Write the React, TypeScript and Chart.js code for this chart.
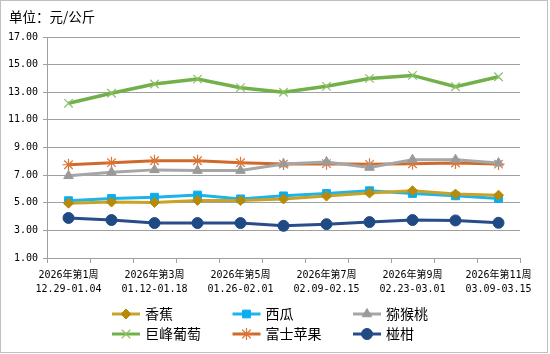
import React, { useEffect, useRef } from "react";
import { Chart, registerables } from "chart.js";
import { drawPoint } from "chart.js/helpers";

Chart.register(...registerables);

const weekLabels = [
  "2026年第1周", "2026年第2周", "2026年第3周", "2026年第4周", "2026年第5周", "2026年第6周",
  "2026年第7周", "2026年第8周", "2026年第9周", "2026年第10周", "2026年第11周",
];
const dateLabels = [
  "12.29-01.04", "01.05-01.11", "01.12-01.18", "01.19-01.25", "01.26-02.01", "02.02-02.08",
  "02.09-02.15", "02.16-02.22", "02.23-03.01", "03.02-03.08", "03.09-03.15",
];
const seriesNames = ["香蕉", "西瓜", "猕猴桃", "巨峰葡萄", "富士苹果", "椪柑"];
const banana = [4.97, 5.05, 5.02, 5.17, 5.17, 5.27, 5.48, 5.7, 5.87, 5.63, 5.55];
const watermelon = [5.15, 5.31, 5.4, 5.56, 5.28, 5.5, 5.67, 5.87, 5.67, 5.5, 5.3];
const kiwi = [6.95, 7.2, 7.38, 7.33, 7.33, 7.8, 7.95, 7.55, 8.12, 8.12, 7.87];
const grape = [12.2, 12.93, 13.6, 13.95, 13.33, 13.0, 13.43, 14.0, 14.22, 13.4, 14.12];
const apple = [7.75, 7.9, 8.04, 8.04, 7.9, 7.8, 7.83, 7.78, 7.82, 7.88, 7.8];
const ponkan = [3.9, 3.75, 3.53, 3.53, 3.53, 3.33, 3.45, 3.6, 3.75, 3.72, 3.55];
const yTickValues = [1, 3, 5, 7, 9, 11, 13, 15, 17];
const titleText = "单位：元/公斤";

const MONO = "'DejaVu Sans Mono', 'Noto Sans CJK SC', monospace";
const CJK = "'Noto Sans CJK SC', sans-serif";

const styles = [
  { line: "#C9A227", point: "#B88A0A", style: "rectRot", radius: 5, pw: 1 },
  { line: "#1DB4EA", point: "#0AAEEF", style: "rect", radius: 5.5, pw: 1 },
  { line: "#A6A6A6", point: "#9A9A9A", style: "triangle", radius: 5.5, pw: 1 },
  { line: "#72B04A", point: "#8CBF68", style: "crossRot", radius: 6, pw: 1.2 },
  { line: "#CF6A2A", point: "#DE7434", style: "star", radius: 6, pw: 1.2 },
  { line: "#2A4C88", point: "#1F4A84", style: "circle", radius: 5.5, pw: 1 },
];

const overlayPlugin = {
  id: "overlay",
  afterDraw(chart: any) {
    const ctx = chart.ctx;
    ctx.save();
    ctx.fillStyle = "#000";
    ctx.font = `13.5px ${CJK}`;
    ctx.textAlign = "left";
    ctx.textBaseline = "middle";
    ctx.fillText(titleText, 9, 17);
    chart.data.datasets.forEach((ds: any, i: number) => {
      const col = i % 3;
      const row = Math.floor(i / 3);
      const x0 = 112 + col * 120.5;
      const y = 314 + row * 20;
      ctx.strokeStyle = ds.borderColor;
      ctx.lineWidth = 3;
      ctx.beginPath();
      ctx.moveTo(x0, y);
      ctx.lineTo(x0 + 28, y);
      ctx.stroke();
      ctx.fillStyle = ds.pointBackgroundColor;
      ctx.strokeStyle = ds.pointBorderColor;
      ctx.lineWidth = ds.pointBorderWidth;
      drawPoint(ctx, { pointStyle: ds.pointStyle, radius: ds.pointRadius, rotation: 0, borderWidth: ds.pointBorderWidth }, x0 + 14, y);
      ctx.fillStyle = "#000";
      ctx.font = `14px ${CJK}`;
      ctx.textBaseline = "middle";
      ctx.fillText(ds.label, x0 + 33, y);
    });
    ctx.restore();
  },
};

export default function App() {
  const ref = useRef<HTMLCanvasElement>(null);
  useEffect(() => {
    if (!ref.current) return;
    const values = [banana, watermelon, kiwi, grape, apple, ponkan];
    const chart = new Chart(ref.current, {
      type: "line",
      data: {
        labels: weekLabels.map((w, i) => [w, dateLabels[i]]),
        datasets: values.map((v, i) => ({
          label: seriesNames[i],
          data: v,
          borderColor: styles[i].line,
          borderWidth: i === 3 ? 3.5 : 3,
          pointStyle: styles[i].style as any,
          pointRadius: styles[i].radius,
          pointBackgroundColor: styles[i].point,
          pointBorderColor: styles[i].point,
          pointBorderWidth: styles[i].pw,
          tension: 0,
          fill: false,
        })),
      },
      options: {
        animation: false,
        responsive: false,
        maintainAspectRatio: false,
        layout: { padding: { top: 37, right: 30, bottom: 56, left: 0 } },
        plugins: { legend: { display: false }, title: { display: false }, tooltip: { enabled: false } },
        scales: {
          x: {
            type: "category",
            offset: true,
            afterFit: (s: any) => { s.height = 40; },
            grid: { offset: true, drawOnChartArea: false, drawTicks: true, tickLength: 5, color: "#A0A0A0" },
            border: { display: true, color: "#A0A0A0" },
            ticks: {
              autoSkip: false,
              maxRotation: 0,
              minRotation: 0,
              padding: 5,
              color: "#000",
              font: { family: MONO, size: 10, lineHeight: 1.4 },
              callback: (_v: any, idx: number) => (idx % 2 === 0 ? [weekLabels[idx], dateLabels[idx]] : ""),
            },
          },
          y: {
            min: 1,
            max: 17,
            afterFit: (s: any) => { s.width = 47; },
            afterBuildTicks: (s: any) => { s.ticks = yTickValues.map((v) => ({ value: v })); },
            grid: { color: "#A0A0A0", drawTicks: true, tickLength: 4 },
            border: { display: true, color: "#A0A0A0" },
            ticks: {
              padding: 5,
              color: "#000",
              font: { family: MONO, size: 10 },
              callback: (v: any) => Number(v).toFixed(2),
            },
          },
        },
      },
      plugins: [overlayPlugin],
    });
    return () => chart.destroy();
  }, []);
  return (
    <div style={{ position: "absolute", left: 0, top: 0, width: 550, height: 354, background: "#fff" }}>
      <canvas ref={ref} width={550} height={354} style={{ position: "absolute", left: 0, top: 0 }} />
      <div style={{ position: "absolute", left: 0, top: 0, width: 546, height: 351, border: "1px solid #C0C0C0", pointerEvents: "none" }} />
    </div>
  );
}
